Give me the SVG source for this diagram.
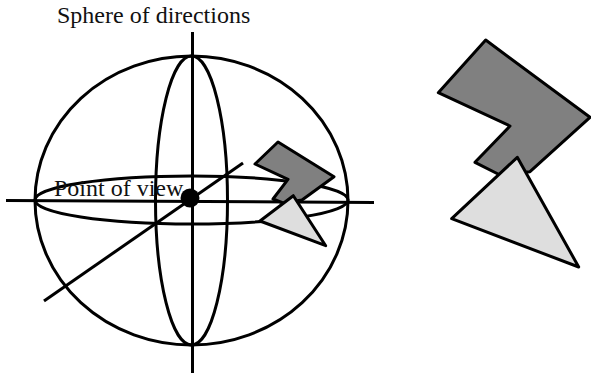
<svg xmlns="http://www.w3.org/2000/svg" width="591" height="378" viewBox="0 0 591 378">
<style>
.l{fill:none;stroke:#000;stroke-width:3}
.d{fill:#808080;stroke:#000;stroke-width:3;stroke-linejoin:round}
.g{fill:#dedede;stroke:#000;stroke-width:3;stroke-linejoin:round}
text{font-family:"Liberation Serif","Times New Roman",serif;font-size:24px;fill:#111}
</style>
<rect width="591" height="378" fill="#fff"/>
<g id="sphere">
<ellipse class="l" cx="191.5" cy="200.5" rx="156.5" ry="144.5"/>
<ellipse class="l" cx="191.5" cy="200.5" rx="36" ry="144.5"/>
<ellipse class="l" cx="191.5" cy="200" rx="156.5" ry="24"/>
</g>
<g id="axes">
<path class="l" d="M192.5 32V373"/>
<path class="l" d="M6 200.5L374 202.5"/>
<path class="l" d="M243 163L44 301"/>
</g>
<g id="point-of-view">
<circle cx="190" cy="198" r="9.5"/>
<text x="54" y="196">Point of view</text>
</g>
<g id="small-shapes">
<path class="d" d="M278 142L334 176.7L302 200L283 203L273 199L288 179.3L255 164Z"/>
<path class="g" d="M293.3 195.7L260 221L325.7 245.7Z"/>
</g>
<g id="large-shapes">
<path class="d" d="M485.7 40L590 117.3L530 171.7L500 175L475 162.3L510 126L438.3 92.7Z"/>
<path class="g" d="M517.3 157.3L451.7 218.7L578.7 267Z"/>
</g>
<g id="title"><text x="57" y="23">Sphere of directions</text></g>
</svg>
